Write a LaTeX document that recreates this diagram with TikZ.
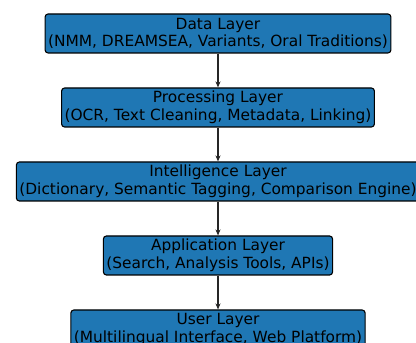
\documentclass[tikz,border=0pt]{standalone}
\usepackage{fontspec}
\setmainfont{DejaVu Sans}
\usepackage{tikz}
\usetikzlibrary{arrows.meta}
\definecolor{layerblue}{RGB}{31,119,180}
\tikzstyle{layer}=[draw=black, line width=1.1pt, fill=layerblue, rounded corners=3pt, align=center, inner xsep=3pt, inner ysep=0pt, minimum height=39pt, font=\fontsize{15.4pt}{17.5pt}\selectfont]
\tikzstyle{flow}=[line width=1.2pt, draw=black!85, -{Stealth[length=6pt, width=5pt]}]

\begin{document}
\begin{tikzpicture}[x=1pt, y=1pt]
        \useasboundingbox[fill=white] (0, 0) rectangle (416, 343);
        \node[layer] (data) at (218, 309.5) {Data Layer\\(NMM, DREAMSEA, Variants, Oral Traditions)};
        \node[layer] (proc) at (218, 235.5) {Processing Layer\\(OCR, Text Cleaning, Metadata, Linking)};
        \node[layer] (intel) at (218, 161.5) {Intelligence Layer\\(Dictionary, Semantic Tagging, Comparison Engine)};
        \node[layer] (app) at (218, 87.5) {Application Layer\\(Search, Analysis Tools, APIs)};
        \node[layer] (user) at (218, 13.5) {User Layer\\(Multilingual Interface, Web Platform)};
        \draw[flow] (data.south) -- (proc.north);
        \draw[flow] (proc.south) -- (intel.north);
        \draw[flow] (intel.south) -- (app.north);
        \draw[flow] (app.south) -- (user.north);
    \end{tikzpicture}
\end{document}
